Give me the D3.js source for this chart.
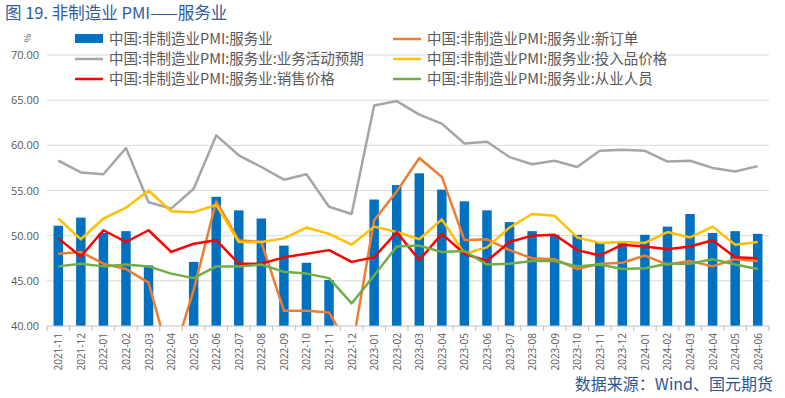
<!DOCTYPE html>
<html>
<head>
<meta charset="utf-8">
<script src="https://cdn.jsdelivr.net/npm/d3@7"></script>
<style>
  body { margin: 0; background: #fff; }
  svg { font-family: "Microsoft YaHei", "Noto Sans CJK SC", sans-serif; }
</style>
</head>
<body>
<div id="chart"></div>
<script>
// months on the x axis
var months = ["2021-11","2021-12","2022-01","2022-02","2022-03","2022-04","2022-05","2022-06",
  "2022-07","2022-08","2022-09","2022-10","2022-11","2022-12","2023-01","2023-02","2023-03",
  "2023-04","2023-05","2023-06","2023-07","2023-08","2023-09","2023-10","2023-11","2023-12",
  "2024-01","2024-02","2024-03","2024-04","2024-05","2024-06"];

// series values
var services = [51.1,52.0,50.3,50.5,46.7,40.0,47.1,54.3,52.8,51.9,48.9,47.0,45.1,39.4,54.0,55.6,
  56.9,55.1,53.8,52.8,51.5,50.5,50.1,50.1,49.3,49.3,50.1,51.0,52.4,50.3,50.5,50.2];
var newOrders = [48.0,48.2,46.9,46.3,44.8,35.8,44.0,53.8,49.5,49.3,41.7,41.7,41.5,37.2,51.7,54.9,
  58.6,56.5,49.5,49.6,48.4,47.5,47.4,46.3,46.9,47.0,47.8,46.8,47.2,46.6,47.4,47.2];
var expectations = [58.3,57.0,56.8,59.7,53.7,53.0,55.2,61.1,58.9,57.6,56.2,56.8,53.2,52.4,64.4,64.9,
  63.4,62.4,60.2,60.4,58.7,57.9,58.3,57.6,59.4,59.5,59.4,58.2,58.3,57.5,57.1,57.7];
var inputPrices = [51.9,49.6,51.9,53.1,55.0,52.7,52.6,53.4,49.3,49.3,49.7,50.9,50.2,49.0,51.0,50.4,
  49.6,51.8,48.0,48.7,50.9,52.4,52.2,49.8,49.2,49.3,49.2,50.4,49.8,51.0,49.0,49.3];
var salesPrices = [49.7,47.7,50.6,49.3,50.6,48.2,49.1,49.5,46.9,46.9,47.6,48.0,48.4,47.1,47.6,50.4,
  47.3,50.2,48.0,47.2,49.3,50.0,50.1,48.4,47.8,49.0,48.8,48.5,48.8,49.5,47.6,47.5];
var employment = [46.6,46.9,46.6,46.8,46.6,45.8,45.3,46.6,46.6,46.8,46.0,45.8,45.3,42.5,45.6,48.8,
  48.9,48.2,48.3,46.8,46.9,47.2,47.2,46.6,46.8,46.3,46.4,46.9,46.9,47.4,46.8,46.3];

var yTicks = [40,45,50,55,60,65,70];
var prefix = "中国:非制造业PMI:服务业";

var lineSeries = [
  { name: prefix + ":新订单", values: newOrders, color: "#ED7D31" },
  { name: prefix + ":业务活动预期", values: expectations, color: "#A5A5A5" },
  { name: prefix + ":投入品价格", values: inputPrices, color: "#FFC000" },
  { name: prefix + ":销售价格", values: salesPrices, color: "#FF0000" },
  { name: prefix + ":从业人员", values: employment, color: "#70AD47" }
];

var W = 785, H = 398;
var margin = { top: 55, right: 16, bottom: 72, left: 47 };
var width = W - margin.left - margin.right,
  height = H - margin.top - margin.bottom;

var svg = d3.select("#chart").append("svg")
  .attr("width", W)
  .attr("height", H);

// title and source
svg.append("text")
  .attr("x", 5).attr("y", 19)
  .attr("fill", "#2E5C9E")
  .style("font-size", "16.5px")
  .text("图 19.  非制造业 PMI——服务业");

svg.append("text")
  .attr("x", 773).attr("y", 390)
  .attr("text-anchor", "end")
  .attr("fill", "#2F5597")
  .style("font-size", "16px")
  .style("font-family", "'Noto Sans CJK SC', 'DejaVu Sans Mono', monospace")
  .text("数据来源：Wind、国元期货");

var g = svg.append("g")
  .attr("transform", "translate(" + margin.left + "," + margin.top + ")");

var x = d3.scaleBand().domain(months).range([0, width]).paddingInner(0.58).paddingOuter(0.29);
var xc = function (m) { return x(m) + x.bandwidth() / 2; };
var y = d3.scaleLinear().domain([40, 70]).range([height, 0]);

// gridlines
g.selectAll(".grid").data(yTicks.slice(1)).enter().append("line")
  .attr("x1", 0).attr("x2", width)
  .attr("y1", function (d) { return y(d); })
  .attr("y2", function (d) { return y(d); })
  .attr("stroke", "#D9D9D9").attr("stroke-width", 1);

// y axis labels
var yAxis = g.append("g")
  .call(d3.axisLeft(y).tickValues(yTicks).tickFormat(d3.format(".2f")).tickSize(0).tickPadding(8));
yAxis.select(".domain").remove();
yAxis.selectAll("text").attr("fill", "#595959").style("font-size", "11px")
  .style("font-family", "'Open Sans', sans-serif");

// unit label
svg.append("text")
  .attr("transform", "translate(24,34) rotate(90)")
  .attr("fill", "#595959")
  .style("font-size", "9px")
  .text("%");

g.append("clipPath").attr("id", "clip")
  .append("rect").attr("x", 0).attr("y", -2).attr("width", width).attr("height", height + 2);

// bars
g.append("g").attr("clip-path", "url(#clip)")
  .selectAll("rect").data(services).enter().append("rect")
  .attr("x", function (d, i) { return x(months[i]); })
  .attr("width", x.bandwidth())
  .attr("y", function (d) { return y(Math.max(d, 40)); })
  .attr("height", function (d) { return Math.max(0, y(40) - y(d)); })
  .attr("fill", "#0070C0");

// lines
var line = d3.line()
  .x(function (d, i) { return xc(months[i]); })
  .y(function (d) { return y(d); });

var lg = g.append("g").attr("clip-path", "url(#clip)");
lineSeries.forEach(function (s) {
  lg.append("path")
    .datum(s.values)
    .attr("d", line)
    .attr("fill", "none")
    .attr("stroke", s.color)
    .attr("stroke-width", 2.5)
    .attr("stroke-linejoin", "round");
});

// x axis
var step = x.step();
var xAxis = g.append("g")
  .attr("transform", "translate(0," + height + ")");
xAxis.append("line").attr("x1", 0).attr("x2", width).attr("stroke", "#BFBFBF");
xAxis.selectAll(".tk").data(d3.range(months.length + 1)).enter().append("line")
  .attr("x1", function (i) { return i * step; })
  .attr("x2", function (i) { return i * step; })
  .attr("y1", 0).attr("y2", 5)
  .attr("stroke", "#BFBFBF");
xAxis.selectAll(".lbl").data(months).enter().append("text")
  .attr("transform", function (m) { return "translate(" + (xc(m) + 4) + ",7) rotate(-90)"; })
  .attr("text-anchor", "end")
  .attr("fill", "#595959")
  .style("font-size", "10px")
  .style("font-family", "'Open Sans', sans-serif")
  .text(function (m) { return m; });

// legend
var legendItems = [
  { name: prefix, color: "#0070C0", bar: true },
  lineSeries[0], lineSeries[1], lineSeries[2], lineSeries[3], lineSeries[4]
];
var lgd = svg.append("g");
legendItems.forEach(function (d, i) {
  var col = i % 2, row = Math.floor(i / 2);
  var lx = col === 0 ? 75 : 393, ly = 39 + row * 20;
  if (d.bar) {
    lgd.append("rect").attr("x", lx).attr("y", ly - 5).attr("width", 28).attr("height", 9).attr("fill", d.color);
  } else {
    lgd.append("line").attr("x1", lx).attr("x2", lx + 28).attr("y1", ly).attr("y2", ly)
      .attr("stroke", d.color).attr("stroke-width", 2.5);
  }
  lgd.append("text")
    .attr("x", lx + 34).attr("y", ly + 5)
    .attr("fill", "#595959")
    .style("font-size", "14.5px")
    .text(d.name);
});
</script>
</body>
</html>
